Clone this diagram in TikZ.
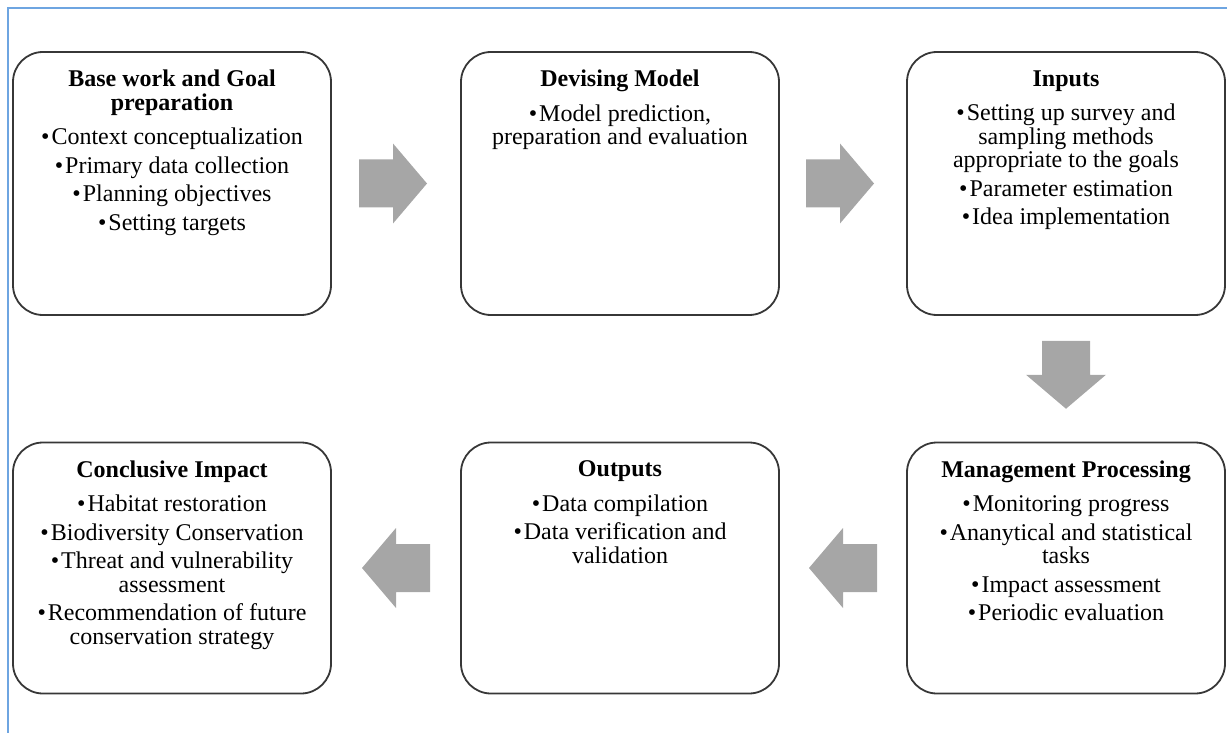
\documentclass[tikz,border=0pt]{standalone}
\usepackage{fontspec}
\setmainfont{Liberation Serif}
\usepackage{tikz}
\usetikzlibrary{calc}

\definecolor{frameblue}{RGB}{110,165,225}
\definecolor{boxline}{RGB}{55,55,55}
\definecolor{arrowgray}{RGB}{166,166,166}

\begin{document}
\begin{tikzpicture}[x=1pt,y=-1pt,
	stagebox/.style={draw=boxline, line width=1.8pt, rounded corners=30pt,
		minimum width=318pt, inner sep=0pt},
	stagetext/.style={anchor=north, align=center, inner sep=0pt,
		font=\fontsize{24}{23.5}\selectfont},
	blkarrow/.pic={\fill[arrowgray] (-34,-24) -- (0,-24) -- (0,-40) -- (34,0)
		-- (0,40) -- (0,24) -- (-34,24) -- cycle;}]

	\useasboundingbox (0,0) rectangle (1227,733);

	% Draw the page frame
	\draw[frameblue, line width=2pt] (1227,8) -- (8,8) -- (8,733);

	% Top row of boxes
	\node[stagebox, minimum height=263pt] (base) at (172,183.5) {};
	\node[stagebox, minimum height=263pt] (model) at (620,183.5) {};
	\node[stagebox, minimum height=263pt] (inputs) at (1066,183.5) {};

	% Bottom row of boxes
	\node[stagebox, minimum height=251pt] (impact) at (172,568) {};
	\node[stagebox, minimum height=251pt] (outputs) at (620,568) {};
	\node[stagebox, minimum height=251pt] (manage) at (1066,568) {};

	% Texts in the boxes
	\node[stagetext] (basetxt) at ($(base.north)+(0,19)$)
		{\textbf{Base work and Goal}\\\textbf{preparation}\\[11pt]
		•\kern2pt Context conceptualization\\[5pt]
		•\kern2pt Primary data collection\\[5pt]
		•\kern2pt Planning objectives\\[5pt]
		•\kern2pt Setting targets};
	\node[stagetext] (modeltxt) at ($(model.north)+(0,19)$)
		{\textbf{Devising Model}\\[11pt]
		•\kern2pt Model prediction,\\
		preparation and evaluation};
	\node[stagetext] (inputstxt) at ($(inputs.north)+(0,19)$)
		{\textbf{Inputs}\\[11pt]
		•\kern2pt Setting up survey and\\
		sampling methods\\
		appropriate to the goals\\[5pt]
		•\kern2pt Parameter estimation\\[5pt]
		•\kern2pt Idea implementation};
	\node[stagetext] (managetxt) at ($(manage.north)+(0,19)$)
		{\textbf{Management Processing}\\[11pt]
		•\kern2pt Monitoring progress\\[5pt]
		•\kern2pt Ananytical and statistical\\
		tasks\\[5pt]
		•\kern2pt Impact assessment\\[5pt]
		•\kern2pt Periodic evaluation};
	\node[stagetext] (outputstxt) at ($(outputs.north)+(0,19)$)
		{\textbf{Outputs}\\[11pt]
		•\kern2pt Data compilation\\[5pt]
		•\kern2pt Data verification and\\
		validation};
	\node[stagetext] (impacttxt) at ($(impact.north)+(0,19)$)
		{\textbf{Conclusive Impact}\\[11pt]
		•\kern2pt Habitat restoration\\[5pt]
		•\kern2pt Biodiversity Conservation\\[5pt]
		•\kern2pt Threat and vulnerability\\
		assessment\\[5pt]
		•\kern2pt Recommendation of future\\
		conservation strategy};

	% Draw block arrows between the boxes
	\coordinate (a1) at ($(base.east)!0.5!(model.west)+(-3,0)$);
	\coordinate (a2) at ($(model.east)!0.5!(inputs.west)+(-3,0)$);
	\coordinate (a3) at ($(inputs.south)!0.5!(manage.north)+(0,-4)$);
	\coordinate (a4) at ($(manage.west)!0.5!(outputs.east)$);
	\coordinate (a5) at ($(outputs.west)!0.5!(impact.east)$);
	\pic at (a1) {blkarrow};
	\pic at (a2) {blkarrow};
	\pic[rotate=-90] at (a3) {blkarrow};
	\pic[rotate=180] at (a4) {blkarrow};
	\pic[rotate=180] at (a5) {blkarrow};

\end{tikzpicture}
\end{document}
